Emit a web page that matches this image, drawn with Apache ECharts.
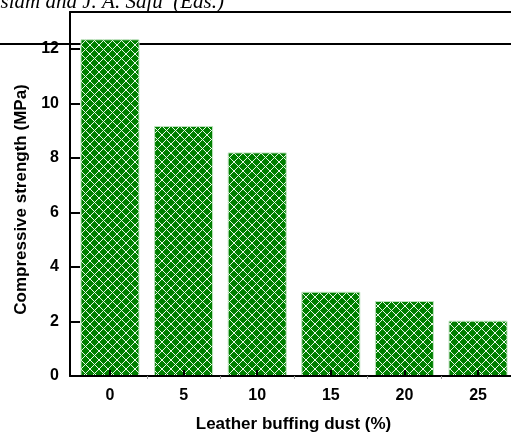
<!DOCTYPE html>
<html><head><meta charset="utf-8">
<script src="https://cdn.jsdelivr.net/npm/echarts@6/dist/echarts.min.js"></script>
<style>html,body{margin:0;padding:0;background:#fff}#c{width:511px;height:438px}</style>
</head><body><div id="c"></div>
<script>
const categories = [0, 5, 10, 15, 20, 25];
const strength = [12.35, 9.17, 8.2, 3.09, 2.75, 2.03];
const yTicks = [0, 2, 4, 6, 8, 10, 12];
const xMinorTicks = [2.5, 7.5, 12.5, 17.5, 22.5];
const xTitle = 'Leather buffing dust (%)';
const yTitle = 'Compressive strength (MPa)';
const headerText = 'Islam and J. A. Safu  (Eds.)';

const P = 9;
const pc = document.createElement('canvas');
pc.width = P; pc.height = P;
const g = pc.getContext('2d');
g.fillStyle = '#008000'; g.fillRect(0, 0, P, P);
g.fillStyle = '#e8f8e8';
for (let i = 0; i < P; i++) {
  g.fillRect(i, i, 1, 1);
  g.fillRect(i, P - 1 - i, 1, 1);
}

const font = '"Liberation Sans", Arial, sans-serif';
const xMin = -2.717, xMax = 27.24;
const chart = echarts.init(document.getElementById('c'), null, {renderer: 'canvas'});
chart.setOption({
  animation: false,
  backgroundColor: '#fff',
  grid: {left: 70, right: 0, top: 12, bottom: 59},
  xAxis: [
    {type: 'value', position: 'bottom', min: xMin, max: xMax, z: 5,
     axisLine: {onZero: false, lineStyle: {color: '#000', width: 2}},
     axisTick: {show: true, inside: true, length: 6, customValues: categories, lineStyle: {color: '#000', width: 2}},
     axisLabel: {customValues: categories, color: '#000', fontWeight: 'bold', fontSize: 16, fontFamily: font, margin: 12},
     splitLine: {show: false},
     name: xTitle, nameLocation: 'middle', nameGap: 40,
     nameTextStyle: {color: '#000', fontWeight: 'bold', fontSize: 17, fontFamily: font, padding: [0, 0, 0, 6]}},
    {type: 'value', position: 'bottom', min: xMin, max: xMax, z: 5,
     axisLine: {show: false, onZero: false},
     axisTick: {show: true, length: 3, customValues: xMinorTicks, lineStyle: {color: '#999', width: 1}},
     axisLabel: {show: false}, splitLine: {show: false}},
    {type: 'value', position: 'top', min: xMin, max: xMax, z: 5,
     axisLine: {onZero: false, lineStyle: {color: '#000', width: 2}},
     axisTick: {show: false}, axisLabel: {show: false}, splitLine: {show: false}}
  ],
  yAxis: {type: 'value', min: 0, max: 13.35, z: 5,
    axisLine: {show: true, onZero: false, lineStyle: {color: '#000', width: 2}},
    axisTick: {show: true, inside: true, length: 10, customValues: yTicks, lineStyle: {color: '#000', width: 2}},
    axisLabel: {customValues: yTicks, color: '#000', fontWeight: 'bold', fontSize: 16, fontFamily: font, margin: 11},
    splitLine: {show: false},
    name: yTitle, nameLocation: 'middle', nameGap: 40,
    nameTextStyle: {color: '#000', fontWeight: 'bold', fontSize: 17, fontFamily: font, padding: [0, 11, 0, 0]}},
  graphic: [
    {type: 'line', z: 0, shape: {x1: 0, y1: 44, x2: 511, y2: 44}, style: {stroke: '#000', lineWidth: 2}},
    {type: 'text', z: 10, x: 224, y: 13,
     style: {text: headerText, font: 'italic 21px "Liberation Serif", "Times New Roman", serif', fill: '#000', align: 'right', verticalAlign: 'bottom'}}
  ],
  series: [{
    type: 'bar', xAxisIndex: 0, yAxisIndex: 0, z: 2,
    barWidth: 59,
    data: categories.map((c, i) => [c, strength[i]]),
    itemStyle: {color: {image: pc, repeat: 'repeat'}, borderColor: '#bfe3bf', borderWidth: 1}
  }]
});
</script>
</body></html>
